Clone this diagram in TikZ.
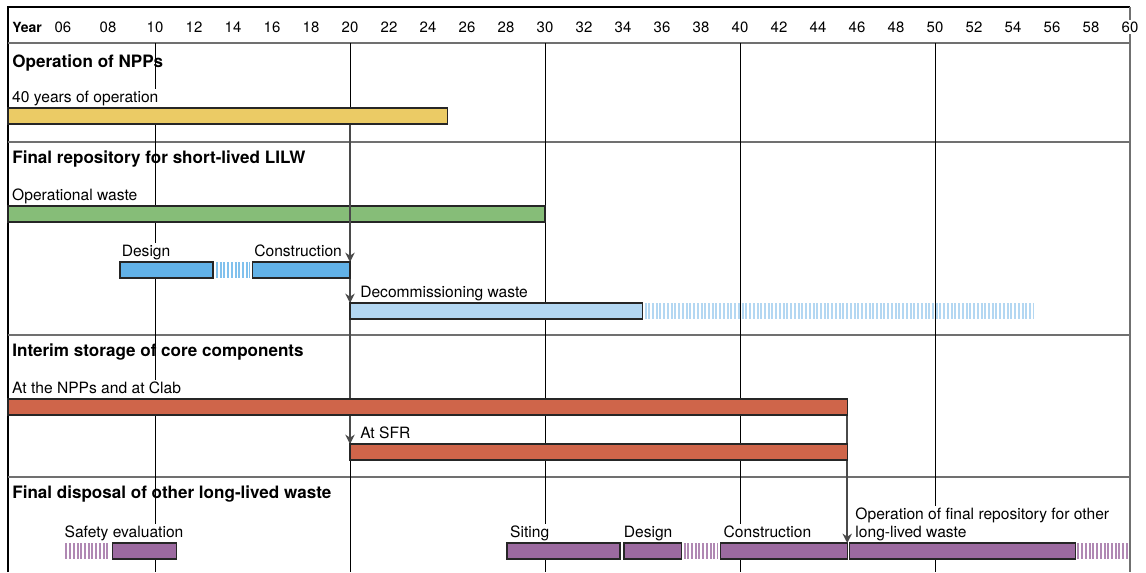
\documentclass[tikz,border=0pt]{standalone}
\usepackage{fontspec}
\setmainfont{TeX Gyre Heros}
\usepackage{tikz}
\usetikzlibrary{arrows.meta, positioning}

\definecolor{npp}{HTML}{EBCB65}
\definecolor{opwaste}{HTML}{86BD78}
\definecolor{lilw}{HTML}{62B2E8}
\definecolor{decomm}{HTML}{B3D7F2}
\definecolor{core}{HTML}{CF654A}
\definecolor{llw}{HTML}{9C6AA0}
\definecolor{rule}{HTML}{707070}
\definecolor{link}{HTML}{4A4A4A}

\tikzstyle{barbox} = [rectangle, draw=black!85, line width=0.9pt, minimum height=12pt, inner sep=0pt, outer sep=0pt, anchor=north west]
\tikzstyle{stripes} = [line width=12pt, dash pattern=on 1.5pt off 1.3pt]
\tikzstyle{barlabel} = [fill=white, inner sep=1.2pt, text depth=0.25em, align=left, font=\fontsize{11.7}{13.5}\selectfont]
\tikzstyle{sectitle} = [anchor=base west, inner sep=0pt, font=\fontsize{12.8}{15}\selectfont\bfseries]
\tikzstyle{yearlabel} = [anchor=base, fill=white, inner sep=1pt, font=\fontsize{11.2}{13}\selectfont]
\tikzstyle{gridline} = [black, line width=0.6pt]
\tikzstyle{sepline} = [rule, line width=1pt]
\tikzstyle{linkarrow} = [link, line width=1.7pt, -{Stealth[length=7pt,width=7pt]}]
% bar length in years
\tikzset{yrs/.style={minimum width=#1*14.625pt}}

\begin{document}
\begin{tikzpicture}[x=14.625pt, y=-0.75pt]
\useasboundingbox (2.0513,0) rectangle (60.8205,572);

% frame, rules and decade lines
\draw[black, line width=0.9pt] (2.46,572) -- (2.46,7) -- (60,7);
\draw[sepline] (60,7) -- (60,572);
\foreach \y in {43,142,335,477} \draw[sepline] (2.46,\y) -- (60,\y);
\foreach \yr in {10,20,...,50} \draw[gridline] (\yr,43) -- (\yr,572);

% year header
\node (yearhd) [anchor=base west, inner sep=0pt, font=\fontsize{10.5}{12}\selectfont\bfseries] at (2.67,32) {Year};
\node (y06) [yearlabel] at (5.28,32) {06};
\node (y08) [yearlabel] at (7.59,32) {08};
\foreach \yr in {10,12,...,60} \node (y\yr) [yearlabel] at (\yr,32) {\yr};

% section titles
\node (sec1) [sectitle] at (2.67,67) {Operation of NPPs};
\node (sec2) [sectitle] at (2.67,163) {Final repository for short-lived LILW};
\node (sec3) [sectitle] at (2.67,356) {Interim storage of core components};
\node (sec4) [sectitle] at (2.67,498) {Final disposal of other long-lived waste};

% bars
\node (opnpp) [barbox, fill=npp, yrs=22.54] at (2.46,108) {};
\node (opwaste) [barbox, fill=opwaste, yrs=27.54] at (2.46,206) {};
\node (ldesign) [barbox, fill=lilw, yrs=4.77] at (8.2,262) {};
\node (lconstr) [barbox, fill=lilw, yrs=5] at (15,262) {};
\node (decom) [barbox, fill=decomm, yrs=15] at (20,303) {};
\node (clab) [barbox, fill=core, yrs=43.04] at (2.46,399) {};
\node (sfr) [barbox, fill=core, yrs=25.5] at (20,444) {};
\node (safety) [barbox, fill=llw, yrs=3.3] at (7.8,543) {};
\node (siting) [barbox, fill=llw, yrs=5.8] at (28.05,543) {};
\node (odesign) [barbox, fill=llw, yrs=2.95] at (34.05,543) {};
\node (oconstr) [barbox, fill=llw, yrs=6.5] at (39,543) {};
\node (opfinal) [barbox, fill=llw, yrs=11.6] at (45.6,543) {};

% labels
\node (t_opnpp) [barlabel, above right=0.5pt and 1.8pt of opnpp.north west] {40 years of operation};
\node (t_opwaste) [barlabel, above right=0.5pt and 1.8pt of opwaste.north west] {Operational waste};
\node (t_ldesign) [barlabel, above right=0.5pt and 0pt of ldesign.north west] {Design};
\node (t_lconstr) [barlabel, above right=0.5pt and 0pt of lconstr.north west] {Construction};
\node (t_decom) [barlabel, above right=0.5pt and 6.3pt of decom.north west] {Decommissioning waste};
\node (t_clab) [barlabel, above right=0.5pt and 1.8pt of clab.north west] {At the NPPs and at Clab};
\node (t_sfr) [barlabel, above right=0.5pt and 6.3pt of sfr.north west] {At SFR};
\node (t_safety) [barlabel, above right=0.5pt and -37pt of safety.north west] {Safety evaluation};
\node (t_siting) [barlabel, above right=0.5pt and 1pt of siting.north west] {Siting};
\node (t_odesign) [barlabel, above right=0.5pt and -1.5pt of odesign.north west] {Design};
\node (t_oconstr) [barlabel, above right=0.5pt and 1pt of oconstr.north west] {Construction};
\node (t_opfinal) [barlabel, above right=0.5pt and 3.3pt of opfinal.north west] {Operation of final repository for other\\long-lived waste};

% links between stages
\draw [linkarrow] (opnpp.south -| lconstr.north east) -- (lconstr.north east);
\draw [linkarrow] (lconstr.south east) -- (decom.north west);
\draw [linkarrow] (decom.south west) -- (sfr.north west);
\draw [linkarrow] (clab.south east) -- (clab.south east |- opfinal.north);

% redraw bars on top of the links
\foreach \b/\c in {opnpp/npp, ldesign/lilw, lconstr/lilw, decom/decomm, clab/core, sfr/core}
  \draw[black!85, line width=0.9pt, fill=\c] (\b.north west) rectangle (\b.south east);

% open-ended periods
\draw[stripes, lilw!80] ([xshift=2.2pt]ldesign.east) -- ([xshift=-2.2pt]lconstr.west);
\draw[stripes, decomm] ([xshift=1.5pt]decom.east) -- (55.1,311);
\draw[stripes, llw!80] (5.4,551) -- ([xshift=-2.2pt]safety.west);
\draw[stripes, llw!80] ([xshift=1.5pt]odesign.east) -- ([xshift=-2.2pt]oconstr.west);
\draw[stripes, llw!80] ([xshift=1.5pt]opfinal.east) -- (59.95,551);
\end{tikzpicture}
\end{document}
